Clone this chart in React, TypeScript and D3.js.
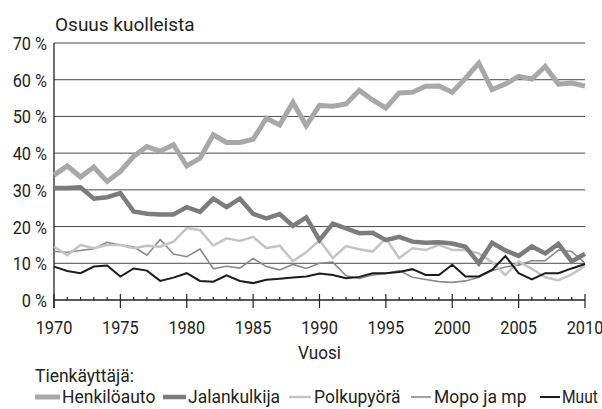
import * as d3 from "d3";
import React, { useEffect, useRef } from "react";

const years = d3.range(1970, 2011);

const henkiloauto = [34, 36.5, 33.5, 36.2, 32.3, 35, 39.1, 41.8, 40.5, 42.3, 36.5, 38.6, 45, 42.9, 42.9, 43.8, 49.5, 47.7, 53.8, 47.5, 53, 52.8, 53.4, 57.1, 54.5, 52.3, 56.4, 56.6, 58.2, 58.3, 56.6, 60.4, 64.5, 57.3, 58.8, 60.9, 60.2, 63.6, 58.8, 59.1, 58.3];
const jalankulkija = [30.5, 30.5, 30.7, 27.6, 28, 29.1, 24.1, 23.5, 23.3, 23.3, 25.3, 24, 27.6, 25.3, 27.6, 23.5, 22.2, 23.4, 20.2, 22.5, 16.3, 20.8, 19.5, 18.2, 18.3, 16.3, 17.2, 15.9, 15.6, 15.7, 15.4, 14.5, 10, 15.6, 13.5, 12, 14.6, 12.7, 15.3, 10.5, 12.6];
const polkupyora = [14.5, 12.2, 15, 14.1, 15, 15, 14.1, 14.8, 14.5, 15.9, 19.6, 19, 14.8, 16.8, 16.1, 17.2, 14.1, 14.8, 10.6, 13, 16.3, 11.4, 14.7, 13.8, 13.2, 16.8, 11.4, 14.1, 13.6, 15, 13.6, 13.6, 12.7, 10.3, 6.8, 10.5, 8.5, 6.2, 5.4, 7, 9.3];
const mopo = [13.2, 13, 13.5, 14, 15.7, 15, 14.5, 12.2, 16.5, 12.5, 11.8, 13.9, 8.5, 9.2, 8.7, 11.3, 9.1, 8.2, 9.7, 8.6, 10, 10.3, 6.6, 5.9, 6.8, 7.2, 8, 6.2, 5.6, 5, 4.8, 5.2, 6.2, 8, 9, 9.5, 10.7, 10.7, 13.6, 13.2, 10];
const muut = [9.1, 7.9, 7.3, 9.1, 9.4, 6.4, 8.6, 8, 5.2, 6.1, 7.3, 5.2, 5, 6.7, 5.2, 4.6, 5.5, 5.8, 6.1, 6.4, 7.2, 6.8, 5.9, 6.3, 7.3, 7.3, 7.6, 8.4, 6.8, 6.8, 9.6, 6.4, 6.4, 8.2, 12, 7.3, 5.6, 7.3, 7.3, 8.6, 9.8];

const seriesNames = ["Henkilöauto", "Jalankulkija", "Polkupyörä", "Mopo ja mp", "Muut"];
const seriesValues = [henkiloauto, jalankulkija, polkupyora, mopo, muut];
const yTicks = [0, 10, 20, 30, 40, 50, 60, 70];
const xLabels = [1970, 1975, 1980, 1985, 1990, 1995, 2000, 2005, 2010];

const colors = ["#a8a8a8", "#7c7c7c", "#c4c4c4", "#8a8a8a", "#1c1c1c"];
const widths = [5, 4.5, 2.5, 1.6, 2];
// draw order: bottom series first so the thick car line stays on top
const drawOrder = [3, 2, 4, 1, 0];

// legend layout: swatch start/end, label start
const legendSwatch = [[35, 60], [163, 186], [289, 311], [411, 431], [540, 560]];
const legendTextX = [62, 188, 314, 434, 562];

// the original uses a condensed face; squeeze Roboto horizontally instead
const font = "Roboto, sans-serif";

function txt(sel: any, x: any, y: any, size = 19, squeeze = 0.86) {
    return sel
        .attr("transform", (d: any, i: number) => {
            const tx = typeof x === "function" ? x(d, i) : x;
            const ty = typeof y === "function" ? y(d, i) : y;
            return `translate(${tx},${ty}) scale(${squeeze},1)`;
        })
        .style("font-family", font)
        .style("font-size", `${size}px`)
        .attr("fill", "#222");
}

export default function App() {
    const ref = useRef<SVGSVGElement>(null);

    useEffect(() => {
        const svg = d3.select(ref.current);
        svg.selectAll("*").remove();

        const x = d3.scaleLinear().domain([1970, 2010]).range([54, 585]);
        const y = d3.scaleLinear().domain([0, 70]).range([300, 43]);

        // grid lines
        svg.append("g")
            .selectAll("line")
            .data(yTicks.slice(1))
            .join("line")
            .attr("x1", x(1970))
            .attr("x2", x(2010))
            .attr("y1", (d) => y(d))
            .attr("y2", (d) => y(d))
            .attr("stroke", "#4a4a4a")
            .attr("stroke-width", 1);

        // y axis line
        svg.append("line")
            .attr("x1", x(1970)).attr("x2", x(1970))
            .attr("y1", y(70)).attr("y2", y(0) + 8)
            .attr("stroke", "#222").attr("stroke-width", 1.3);

        txt(svg.append("g")
            .selectAll("text")
            .data(yTicks)
            .join("text")
            .attr("text-anchor", "end"), 47, (d: number) => y(d) + 7)
            .text((d) => `${d} %`);

        // x axis
        svg.append("line")
            .attr("x1", x(1970)).attr("x2", x(2010))
            .attr("y1", y(0)).attr("y2", y(0))
            .attr("stroke", "#222").attr("stroke-width", 1.3);

        svg.append("g")
            .selectAll("line")
            .data(years)
            .join("line")
            .attr("x1", (d) => x(d))
            .attr("x2", (d) => x(d))
            .attr("y1", (d) => (d % 5 === 0 ? y(0) - 6 : y(0) - 3))
            .attr("y2", (d) => (d % 5 === 0 ? y(0) + 8 : y(0)))
            .attr("stroke", "#222")
            .attr("stroke-width", 1.2);

        txt(svg.append("g")
            .selectAll("text")
            .data(xLabels)
            .join("text")
            .attr("text-anchor", "middle"), (d: number) => x(d), 334)
            .text((d) => d);

        const line = d3
            .line<number>()
            .x((_, i) => x(years[i]))
            .y((d) => y(d));

        svg.append("g")
            .selectAll("path")
            .data(drawOrder)
            .join("path")
            .attr("d", (k) => line(seriesValues[k]))
            .attr("fill", "none")
            .attr("stroke", (k) => colors[k])
            .attr("stroke-width", (k) => widths[k])
            .attr("stroke-linejoin", "miter")
            .attr("stroke-miterlimit", 3);

        txt(svg.append("text"), 55, 31, 19, 1.0).text("Osuus kuolleista");
        txt(svg.append("text").attr("text-anchor", "middle"), x(1990), 359, 19, 0.9).text("Vuosi");
        txt(svg.append("text"), 35, 382, 19, 0.92).text("Tienkäyttäjä:");

        const legend = svg.append("g")
            .selectAll("g")
            .data(seriesNames)
            .join("g");

        legend.append("line")
            .attr("x1", (_, i) => legendSwatch[i][0])
            .attr("x2", (_, i) => legendSwatch[i][1])
            .attr("y1", 397).attr("y2", 397)
            .attr("stroke", (_, i) => colors[i])
            .attr("stroke-width", (_, i) => widths[i]);

        legend.append("text").each(function (d, i) {
            txt(d3.select(this), legendTextX[i], 403, 19, i === 4 ? 0.82 : 0.92).text(d);
        });
    }, []);

    return (
        <svg
            ref={ref}
            width={602}
            height={409}
            style={{ position: "absolute", left: 0, top: 0, background: "#fff" }}
        />
    );
}
